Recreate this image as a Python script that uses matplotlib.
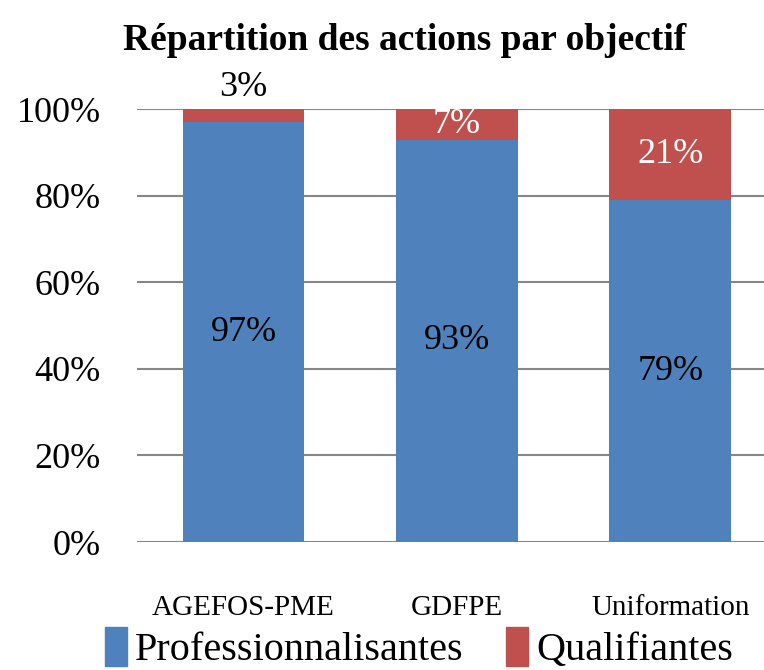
import matplotlib
matplotlib.use("Agg")
import matplotlib.pyplot as plt
from matplotlib.patches import Patch

# --- Daten ---
categories = ["AGEFOS-PME", "GDFPE", "Uniformation"]
professionnalisantes = [97, 93, 79]
qualifiantes = [3, 7, 21]

blue = "#4F81BD"
red = "#C0504D"
serif = ["Liberation Serif", "DejaVu Serif"]

fig = plt.figure(figsize=(7.64, 6.70), dpi=100)
ax = fig.add_axes([0.179, 0.191, 0.838, 0.646])

x = range(len(categories))
b1 = ax.bar(x, professionnalisantes, width=0.57, color=blue, zorder=2)
b2 = ax.bar(x, qualifiantes, width=0.57, bottom=professionnalisantes, color=red, zorder=2)

# Beschriftungen in den Balken
for i, (p, q) in enumerate(zip(professionnalisantes, qualifiantes)):
    ax.text(i, p / 2, f"{p}%", ha="center", va="center", fontsize=26,
            family=serif, color="black", zorder=3)
    if q < 5:
        ax.annotate(f"{q}%", (i, p + q), xytext=(0, 4), textcoords="offset points",
                    ha="center", va="bottom", fontsize=26, family=serif,
                    color="black", annotation_clip=False)
    else:
        ax.text(i, p + q / 2, f"{q}%", ha="center", va="center", fontsize=26,
                family=serif, color="white", zorder=3, clip_on=True)

ax.set_xlim(-0.5, 2.5)
ax.set_ylim(0, 100)
ax.set_yticks([0, 20, 40, 60, 80, 100])
ax.set_yticklabels([f"{v}%" for v in [0, 20, 40, 60, 80, 100]], family=serif, fontsize=26)
ax.set_xticks(list(x))
ax.set_xticklabels(categories, family=serif, fontsize=21)
ax.tick_params(axis="y", length=0, pad=26)
ax.tick_params(axis="x", length=0, pad=38)
ax.grid(axis="y", color="#868686", linewidth=1.5, zorder=0)
for s in ax.spines.values():
    s.set_visible(False)

fig.text(0.53, 0.94, "Répartition des actions par objectif", family=serif, fontsize=27,
         fontweight="bold", ha="center", va="center")

handles = [Patch(color=blue, label="Professionnalisantes"),
           Patch(color=red, label="Qualifiantes")]
fig.legend(handles=handles, loc="center", bbox_to_anchor=(0.548, 0.033), ncol=2,
           frameon=False, prop={"family": serif, "size": 29},
           handlelength=0.55, handleheight=1.1, handletextpad=0.2, columnspacing=1.05)

fig.savefig("out.png", dpi=100)
